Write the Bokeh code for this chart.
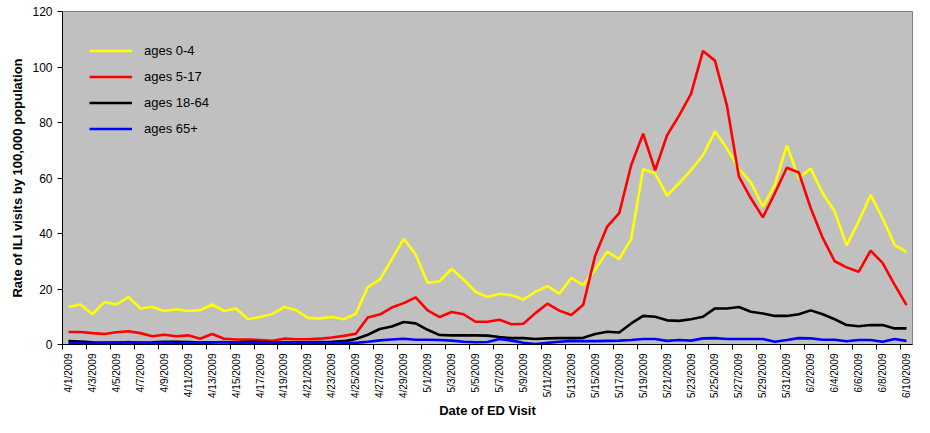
import math
import datetime as dt
from bokeh.plotting import figure
from bokeh.models import FixedTicker, Legend, LegendItem, Title
from bokeh.embed import file_html
from bokeh.resources import INLINE

# ---- data ----
start = dt.date(2009, 4, 1)
dates = [start + dt.timedelta(days=i) for i in range(71)]
date_labels = [f"{d.month}/{d.day}/{d.year}" for d in dates]
day_index = list(range(71))

ages_0_4 = [13.5, 14.4, 10.9, 15.3, 14.4, 17.1, 13.0, 13.5, 12.1, 12.7,
            12.1, 12.4, 14.4, 12.1, 13.0, 9.1, 9.9, 10.9, 13.5, 12.4,
            9.6, 9.4, 9.9, 9.1, 11.1, 20.7, 23.4, 30.6, 38.1, 32.4,
            22.2, 22.8, 27.2, 23.4, 19.0, 17.1, 18.3, 17.8, 16.2, 19.0,
            21.0, 18.3, 24.0, 21.4, 27.0, 33.5, 30.8, 38.0, 63.2, 61.6,
            53.7, 58.1, 62.8, 68.2, 76.8, 70.6, 63.4, 58.4, 49.7, 57.5,
            71.8, 59.9, 63.4, 54.5, 47.9, 35.7, 44.3, 53.9, 45.5, 35.9,
            33.3]
ages_5_17 = [4.5, 4.5, 4.1, 3.8, 4.4, 4.8, 4.1, 3.0, 3.5, 3.0,
             3.3, 2.1, 3.8, 2.1, 1.8, 1.8, 1.6, 1.3, 2.1, 1.9,
             1.9, 2.1, 2.5, 3.1, 3.9, 9.7, 10.8, 13.3, 14.9, 17.0,
             12.3, 9.9, 11.7, 10.9, 8.2, 8.2, 8.9, 7.3, 7.5, 11.3,
             14.7, 12.2, 10.6, 14.3, 32.1, 42.5, 47.3, 64.6, 76.0, 62.8,
             75.4, 82.5, 90.3, 105.8, 102.3, 86.1, 60.5, 52.7, 45.8, 54.5,
             63.7, 62.0, 49.1, 38.4, 30.0, 27.8, 26.2, 33.8, 29.4, 21.6,
             14.2]
ages_18_64 = [1.2, 1.1, 0.8, 0.7, 0.7, 0.8, 0.7, 0.8, 1.0, 1.0,
              0.9, 0.7, 0.8, 0.8, 0.8, 1.0, 0.9, 0.8, 0.7, 0.8,
              0.8, 0.9, 1.0, 1.2, 2.0, 3.5, 5.6, 6.5, 8.1, 7.6,
              5.3, 3.4, 3.3, 3.3, 3.3, 3.2, 2.7, 2.3, 2.3, 2.0,
              2.2, 2.3, 2.3, 2.4, 3.8, 4.6, 4.3, 7.6, 10.3, 10.0,
              8.7, 8.5, 9.1, 10.0, 13.0, 13.0, 13.5, 11.8, 11.2, 10.3,
              10.3, 10.9, 12.3, 10.9, 9.1, 7.0, 6.6, 7.0, 7.0, 5.8,
              5.8]
ages_65 = [0.5, 0.4, 0.3, 0.5, 0.6, 0.9, 0.5, 0.4, 0.6, 0.3,
           0.5, 0.4, 0.7, 0.9, 0.5, 0.4, 0.6, 0.3, 0.5, 0.4,
           0.6, 0.5, 0.4, 0.7, 0.6, 1.0, 1.5, 1.8, 2.1, 1.7,
           1.7, 1.6, 1.4, 1.0, 0.8, 0.9, 2.0, 1.4, 0.6, 0.2,
           0.6, 1.0, 1.3, 1.2, 1.2, 1.3, 1.4, 1.6, 2.0, 2.0,
           1.3, 1.6, 1.4, 2.2, 2.3, 2.0, 2.0, 2.0, 2.0, 1.0,
           1.6, 2.3, 2.2, 1.7, 1.7, 1.2, 1.6, 1.6, 1.0, 2.0,
           1.3]

series_names = ["ages 0-4", "ages 5-17", "ages 18-64", "ages 65+"]
series_values = [ages_0_4, ages_5_17, ages_18_64, ages_65]
series_colors = ["#FFFF00", "#FF0000", "#000000", "#0000FF"]
y_ticks = [0, 20, 40, 60, 80, 100, 120]
x_title = "Date of ED Visit"
y_title = "Rate of ILI visits by 100,000 population"

FONT = "Liberation Sans"

p = figure(width=914, height=417, x_range=(-0.5, 70.5), y_range=(0, 120),
           output_backend="svg", toolbar_location=None,
           min_border_left=62, min_border_right=2, min_border_top=11,
           min_border_bottom=71)
p.background_fill_color = "#C0C0C0"
p.border_fill_color = "white"
p.outline_line_color = "#808080"
p.outline_line_width = 1
p.xgrid.visible = False
p.ygrid.visible = False

items = []
for name, vals, col in zip(series_names, series_values, series_colors):
    r = p.line(day_index, vals, line_color=col, line_width=2.6)
    items.append(LegendItem(label=name, renderers=[r]))

legend = Legend(items=items, location="top_left")
legend.background_fill_alpha = 0
legend.border_line_color = None
legend.margin = 27
legend.padding = 10
legend.glyph_width = 43
legend.glyph_height = 25
legend.label_height = 25
legend.spacing = 1
legend.label_standoff = 12
legend.label_text_font = FONT
legend.label_text_font_size = "13px"
legend.label_text_color = "#000000"
p.add_layout(legend)

# x axis
even = list(range(0, 71, 2))
p.xaxis.ticker = FixedTicker(ticks=even, minor_ticks=[i - 0.5 for i in even])
p.xaxis.major_label_overrides = {i: date_labels[i] for i in even}
p.xaxis.major_label_orientation = math.pi / 2
p.xaxis.major_label_text_font = FONT
p.xaxis.major_label_text_font_size = "10px"
p.xaxis.major_label_text_color = "#000000"
p.xaxis.major_tick_out = 0
p.xaxis.major_tick_in = 0
p.xaxis.minor_tick_out = 5
p.xaxis.minor_tick_in = 0
p.xaxis.minor_tick_line_color = "#000000"
p.xaxis.major_label_standoff = 4
p.xaxis.axis_line_color = "#000000"

p.add_layout(Title(text=x_title, align="center", standoff=0, offset=0,
                   text_font=FONT, text_font_style="bold",
                   text_font_size="13px", text_color="#000000"), "below")

# y axis
p.yaxis.ticker = FixedTicker(ticks=y_ticks, minor_ticks=[])
p.yaxis.major_label_text_font = FONT
p.yaxis.major_label_text_font_size = "12px"
p.yaxis.major_label_text_color = "#000000"
p.yaxis.major_tick_out = 5
p.yaxis.major_tick_in = 0
p.yaxis.major_tick_line_color = "#000000"
p.yaxis.major_label_standoff = 5
p.yaxis.axis_line_color = "#000000"
p.yaxis.axis_label = y_title
p.yaxis.axis_label_text_font = FONT
p.yaxis.axis_label_text_font_style = "bold"
p.yaxis.axis_label_text_font_size = "13px"
p.yaxis.axis_label_text_color = "#000000"
p.yaxis.axis_label_standoff = 4

open("out.html", "w").write(file_html(p, INLINE))
